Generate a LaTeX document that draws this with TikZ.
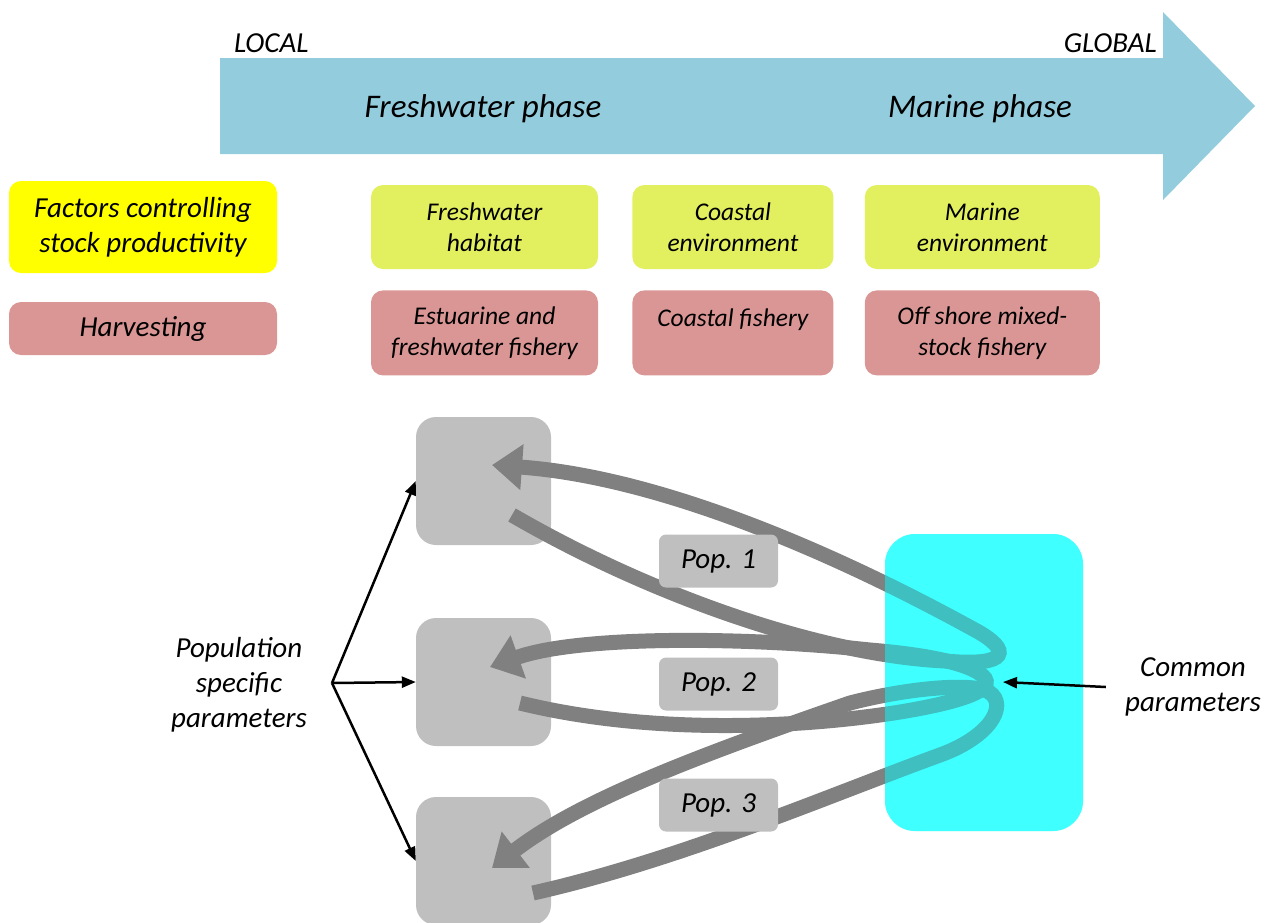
\documentclass[tikz,border=0pt]{standalone}
\usepackage{fontspec}
\setmainfont{Carlito}
\usepackage{xcolor}
\usetikzlibrary{arrows.meta,positioning}

\definecolor{scaleblue}{HTML}{93CDDD}
\definecolor{envgreen}{HTML}{E2EF5F}
\definecolor{harvred}{HTML}{D99694}
\definecolor{popgray}{HTML}{BFBFBF}
\definecolor{loopgray}{HTML}{808080}
\definecolor{comcyan}{RGB}{0,255,255}
\definecolor{combase}{RGB}{128,255,255}
\definecolor{factyellow}{RGB}{255,255,0}

\begin{document}
\begin{tikzpicture}[
    x=1pt, y=-1pt,
    big/.style={font=\fontsize{33}{40}\selectfont\itshape, inner sep=0pt},
    lbl/.style={font=\fontsize{29}{35}\selectfont\itshape, align=center, inner sep=0pt},
    envbox/.style={rounded corners=12pt, fill=envgreen, align=center,
    minimum height=84pt, font=\fontsize{25.5}{31}\selectfont\itshape},
    harvbox/.style={envbox, fill=harvred, minimum height=85pt},
    popbox/.style={rounded corners=20pt, fill=popgray, minimum width=135pt,
    minimum height=128pt},
    poplab/.style={rounded corners=7pt, fill=popgray, minimum width=119pt,
    minimum height=53pt, font=\fontsize{29}{35}\selectfont\itshape},
    combox/.style={rounded corners=30pt, minimum width=198pt, minimum height=297pt},
    loop/.style={line width=15pt, draw=loopgray,
    -{Triangle[length=30pt,width=44pt]}},
    arr/.style={-{Triangle[length=14pt,width=11pt]}, line width=2.5pt}
]
\useasboundingbox (0,0) rectangle (1271,922);
% scale arrow
\fill[scaleblue] (220,58) -- (1163,58) -- (1163,12) -- (1255,106)
    -- (1163,200) -- (1163,154) -- (220,154) -- cycle;
\node[lbl, anchor=base west] (local) at (234,52) {LOCAL};
\node[lbl, anchor=base east] (global) at (1157,52) {GLOBAL};
\node[big, anchor=base] (fresh) at (483,117) {Freshwater phase};
\node[big, anchor=base] (marine) at (980,117) {Marine phase};
% factors and harvesting
\node[envbox, fill=factyellow, minimum width=268pt, minimum height=92pt,
    font=\fontsize{29}{35}\selectfont\itshape] (factors) at (143,227)
    {Factors controlling\\stock productivity};
\node[harvbox, minimum width=268pt, minimum height=53pt,
    font=\fontsize{29}{35}\selectfont\itshape] (harvest) at (143,328.5) {Harvesting};
\node[envbox, minimum width=227pt] (habitat) at (484.5,227) {Freshwater\\habitat};
\node[envbox, minimum width=201pt, right=34pt of habitat] (coastenv) {Coastal\\environment};
\node[envbox, minimum width=235pt, right=31pt of coastenv] (marenv) {Marine\\environment};
\node[harvbox, minimum width=227pt, below=21pt of habitat] (estfish) {Estuarine and\\freshwater fishery};
\node[harvbox, minimum width=201pt, below=21pt of coastenv] (coastfish) {Coastal fishery\\~};
\node[harvbox, minimum width=235pt, below=21pt of marenv] (offfish) {Off shore mixed-\\stock fishery};
% populations
\node[popbox] (pa) at (483.5,481) {};
\node[popbox] (pb) at (483.5,682) {};
\node[popbox] (pc) at (483.5,861) {};
\node[combox, fill=combase] (commonbg) at (984,682.5) {};
\coordinate (taila) at (512,515);
\coordinate (heada) at (492,465);
\coordinate (tailb) at (520,703);
\coordinate (headb) at (490,667);
\coordinate (tailc) at (533,893);
\coordinate (headc) at (492,868);
\draw[loop] (taila) .. controls (650,595) and (820,655) .. (945,661)
    .. controls (1010,667) and (1012,650) .. (975,630)
    .. controls (920,600) and (700,480) .. (heada);
\draw[loop] (tailb) .. controls (650,735) and (800,728) .. (900,712)
    .. controls (960,702) and (998,690) .. (983,676)
    .. controls (970,664) and (930,655) .. (870,650)
    .. controls (750,637) and (580,635) .. (headb);
\draw[loop] (tailc) .. controls (680,860) and (830,795) .. (940,755)
    .. controls (995,735) and (1010,700) .. (985,690)
    .. controls (960,683) and (900,690) .. (850,703)
    .. controls (700,755) and (580,800) .. (headc);
\node[combox, fill=comcyan, fill opacity=0.5] (common) at (commonbg) {};
\node[poplab] (laba) at (718.5,561) {Pop. 1};
\node[poplab] (labb) at (718.5,684) {Pop. 2};
\node[poplab] (labc) at (718.5,805) {Pop. 3};
% parameters
\node[lbl] (popspec) at (239,685) {Population\\specific\\parameters};
\node[lbl] (comtxt) at (1193,687) {Common\\parameters};
\coordinate (fork) at (332,683);
\coordinate (cin) at (1003,682);
\draw[arr] (fork) -- (pa.west);
\draw[arr] (fork) -- (pb.west);
\draw[arr] (fork) -- (pc.west);
\draw[arr] ([xshift=-19pt]comtxt.west) -- (cin);
\end{tikzpicture}
\end{document}
